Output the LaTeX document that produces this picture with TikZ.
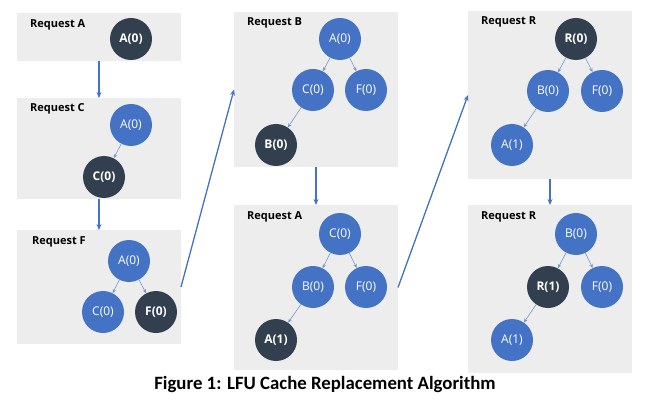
\documentclass[tikz,border=0pt]{standalone}
\usepackage{fontspec}
\setmainfont{Open Sans}
\newfontfamily\capfont{Carlito}
\usetikzlibrary{arrows.meta}
\definecolor{obl}{HTML}{4472C4}
\definecolor{odk}{HTML}{323F4F}
\definecolor{pbg}{HTML}{EDEDED}
\definecolor{edg}{HTML}{7396D2}
\begin{document}
\begin{tikzpicture}[x=1pt,y=-1pt,
  panel/.style={fill=pbg,draw=none,inner sep=0pt,outer sep=0pt,minimum width=164pt},
  plabel/.style={anchor=west,inner sep=0pt,font=\fontsize{11}{13}\selectfont\bfseries},
  bnode/.style={circle,fill=obl,draw=none,minimum size=42pt,inner sep=0pt,text=white,font=\fontsize{12}{14}\selectfont},
  dnode/.style={circle,fill=odk,draw=none,minimum size=42pt,inner sep=0pt,text=white,font=\fontsize{12}{14}\selectfont\bfseries},
  tedge/.style={draw=edg,line width=0.6pt,-{Stealth[length=4pt,width=3.5pt]}},
  flow/.style={draw=obl,line width=1.3pt,-{Stealth[length=6pt,width=5pt]}}]
\useasboundingbox (0,0) rectangle (652,403);
% panels
\node[panel,minimum height=48pt] (p1) at (99,37) {};
\node[panel,minimum height=101pt] (p2) at (99,148.5) {};
\node[panel,minimum height=114pt] (p3) at (99,287) {};
\node[panel,minimum height=155pt] (pB) at (316,89.5) {};
\node[panel,minimum height=165pt] (pA) at (316,287.5) {};
\node[panel,minimum height=168pt] (pR1) at (550,95) {};
\node[panel,minimum height=168pt] (pR2) at (550,289) {};
% labels
\node[plabel] (l1) at (30,25) {Request A};
\node[plabel] (l2) at (30,109) {Request C};
\node[plabel] (l3) at (32,242) {Request F};
\node[plabel] (lB) at (247,23) {Request B};
\node[plabel] (lA) at (247,217) {Request A};
\node[plabel] (lR1) at (481,22) {Request R};
\node[plabel] (lR2) at (481,217) {Request R};
% panel 1
\node[dnode] (a1) at (131,39) {A(0)};
% panel 2
\node[bnode] (a2) at (131,125) {A(0)};
\node[dnode] (c2) at (104,177) {C(0)};
\draw[tedge] (a2) -- (c2);
% panel 3
\node[bnode] (a3) at (129,261) {A(0)};
\node[bnode] (c3) at (103,312) {C(0)};
\node[dnode] (f3) at (156,312) {F(0)};
\draw[tedge] (a3) -- (c3);
\draw[tedge] (a3) -- (f3);
% panel B
\node[bnode] (aB) at (340,39) {A(0)};
\node[bnode] (cB) at (313,90) {C(0)};
\node[bnode] (fB) at (366,90) {F(0)};
\node[dnode] (bB) at (276,145) {B(0)};
\draw[tedge] (aB) -- (cB);
\draw[tedge] (aB) -- (fB);
\draw[tedge] (cB) -- (bB);
% panel A2
\node[bnode] (cA) at (340,234) {C(0)};
\node[bnode] (bA) at (313,287) {B(0)};
\node[bnode] (fA) at (366,287) {F(0)};
\node[dnode] (aA) at (276,340) {A(1)};
\draw[tedge] (cA) -- (bA);
\draw[tedge] (cA) -- (fA);
\draw[tedge] (bA) -- (aA);
% panel R1
\node[dnode] (rR) at (576,39) {R(0)};
\node[bnode] (bR) at (548,91) {B(0)};
\node[bnode] (fR) at (602,91) {F(0)};
\node[bnode] (aR) at (512,145) {A(1)};
\draw[tedge] (rR) -- (bR);
\draw[tedge] (rR) -- (fR);
\draw[tedge] (bR) -- (aR);
% panel R2
\node[bnode] (bS) at (576,234) {B(0)};
\node[dnode] (rS) at (548,287) {R(1)};
\node[bnode] (fS) at (602,287) {F(0)};
\node[bnode] (aS) at (512,340) {A(1)};
\draw[tedge] (bS) -- (rS);
\draw[tedge] (bS) -- (fS);
\draw[tedge] (rS) -- (aS);
% flow arrows
\draw[flow] (p1.south) -- (p2.north);
\draw[flow] (p2.south) -- (p3.north);
\draw[flow] (p3.east) -- (pB.west);
\draw[flow] (pB.south) -- (pA.north);
\draw[flow] (pA.east) -- (pR1.west);
\draw[flow] (pR1.south) -- (pR2.north);
% caption
\node[font=\capfont\fontsize{18.8}{22}\selectfont\bfseries] (cap) at (325,384) {Figure 1: LFU Cache Replacement Algorithm};
\end{tikzpicture}
\end{document}
